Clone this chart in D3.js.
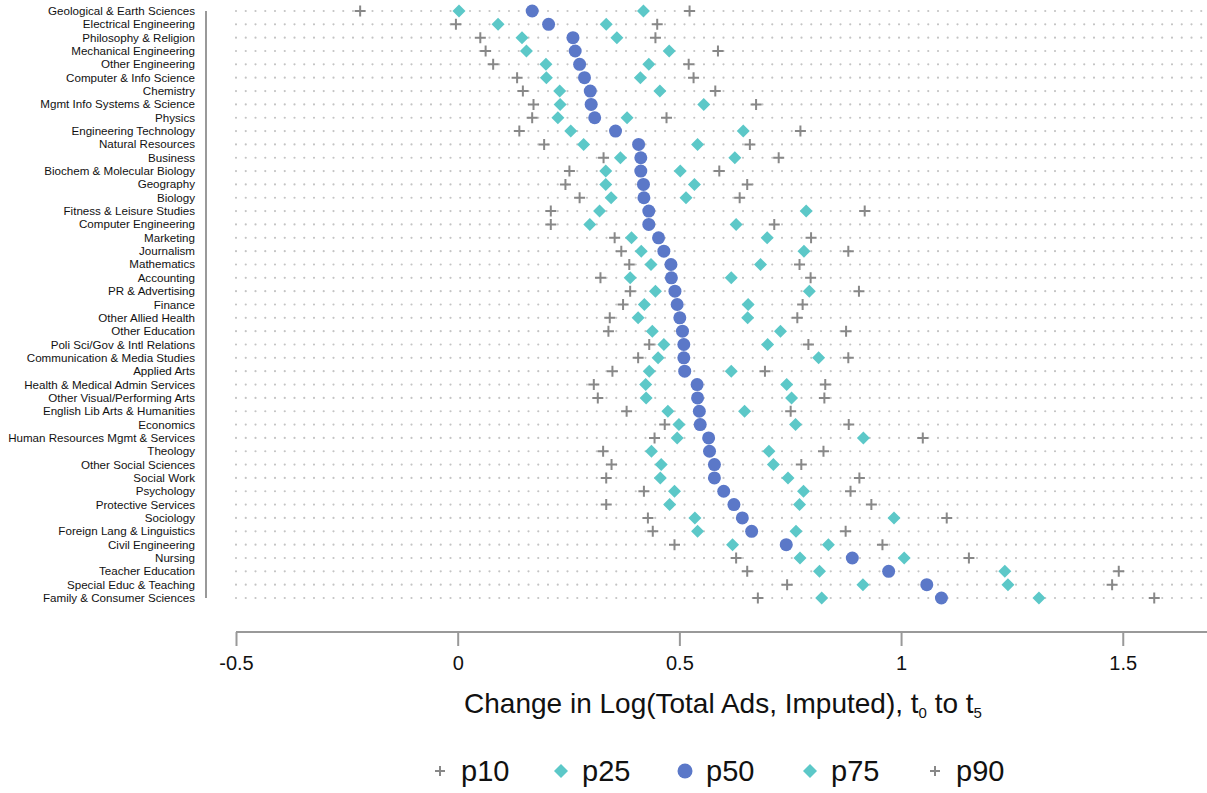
<!DOCTYPE html>
<html>
<head>
<meta charset="utf-8">
<script src="https://cdn.jsdelivr.net/npm/d3@7"></script>
<style>
  body { margin: 0; background: #fff; }
  text { font-family: "Liberation Sans", Arial, sans-serif; }
</style>
</head>
<body>
<div id="chart"></div>
<script>
// Majors, top to bottom
const majors = [
  "Geological & Earth Sciences", "Electrical Engineering", "Philosophy & Religion",
  "Mechanical Engineering", "Other Engineering", "Computer & Info Science",
  "Chemistry", "Mgmt Info Systems & Science", "Physics", "Engineering Technology",
  "Natural Resources", "Business", "Biochem & Molecular Biology", "Geography",
  "Biology", "Fitness & Leisure Studies", "Computer Engineering", "Marketing",
  "Journalism", "Mathematics", "Accounting", "PR & Advertising", "Finance",
  "Other Allied Health", "Other Education", "Poli Sci/Gov & Intl Relations",
  "Communication & Media Studies", "Applied Arts", "Health & Medical Admin Services",
  "Other Visual/Performing Arts", "English Lib Arts & Humanities", "Economics",
  "Human Resources Mgmt & Services", "Theology", "Other Social Sciences",
  "Social Work", "Psychology", "Protective Services", "Sociology",
  "Foreign Lang & Linguistics", "Civil Engineering", "Nursing",
  "Teacher Education", "Special Educ & Teaching", "Family & Consumer Sciences"
];

const p10 = [-0.22, -0.004, 0.051, 0.063, 0.08, 0.134, 0.147, 0.171, 0.168, 0.139,
  0.195, 0.329, 0.252, 0.243, 0.275, 0.21, 0.21, 0.354, 0.369, 0.387,
  0.322, 0.389, 0.373, 0.343, 0.34, 0.432, 0.407, 0.349, 0.307, 0.316,
  0.381, 0.467, 0.444, 0.328, 0.347, 0.335, 0.42, 0.335, 0.429, 0.44,
  0.489, 0.628, 0.653, 0.743, 0.677];
const p25 = [0.003, 0.091, 0.145, 0.155, 0.199, 0.2, 0.23, 0.231, 0.226, 0.255,
  0.284, 0.367, 0.334, 0.334, 0.346, 0.32, 0.298, 0.392, 0.414, 0.436,
  0.389, 0.446, 0.421, 0.407, 0.439, 0.465, 0.452, 0.432, 0.424, 0.425,
  0.474, 0.499, 0.495, 0.437, 0.459, 0.457, 0.489, 0.478, 0.535, 0.541,
  0.62, 0.772, 0.816, 0.914, 0.821];
const p50 = [0.168, 0.205, 0.26, 0.265, 0.275, 0.286, 0.299, 0.301, 0.309, 0.356,
  0.408, 0.413, 0.413, 0.419, 0.42, 0.431, 0.431, 0.453, 0.465, 0.481,
  0.482, 0.49, 0.495, 0.501, 0.507, 0.51, 0.51, 0.512, 0.54, 0.541,
  0.545, 0.547, 0.566, 0.568, 0.579, 0.579, 0.6, 0.623, 0.642, 0.663,
  0.741, 0.89, 0.972, 1.058, 1.091];
const p75 = [0.419, 0.335, 0.359, 0.477, 0.431, 0.412, 0.456, 0.555, 0.382, 0.644,
  0.541, 0.625, 0.502, 0.534, 0.515, 0.786, 0.628, 0.698, 0.781, 0.683,
  0.617, 0.793, 0.655, 0.654, 0.728, 0.699, 0.814, 0.617, 0.742, 0.753,
  0.647, 0.762, 0.915, 0.702, 0.712, 0.745, 0.78, 0.771, 0.984, 0.763,
  0.836, 1.007, 1.234, 1.241, 1.311];
const p90 = [0.523, 0.45, 0.446, 0.587, 0.521, 0.532, 0.581, 0.673, 0.471, 0.773,
  0.659, 0.724, 0.59, 0.653, 0.636, 0.918, 0.714, 0.797, 0.881, 0.771,
  0.796, 0.905, 0.778, 0.766, 0.876, 0.791, 0.881, 0.693, 0.829, 0.827,
  0.751, 0.882, 1.049, 0.825, 0.775, 0.906, 0.886, 0.933, 1.103, 0.875,
  0.958, 1.153, 1.491, 1.476, 1.571];

const xTicks = [-0.5, 0, 0.5, 1, 1.5];
const seriesNames = ["p10", "p25", "p50", "p75", "p90"];

const width = 1207, height = 793;
const colors = { plus: "#888888", diamond: "#5cc8c8", circle: "#5b78c8" };

const svg = d3.select("#chart").append("svg")
  .attr("width", width)
  .attr("height", height);

const x = d3.scaleLinear().domain([-0.5, 1.69]).range([236, 1207]);
const y = d3.scalePoint().domain(majors).range([11, 598]);

// dotted row guides
svg.append("g").selectAll("line")
  .data(majors)
  .join("line")
  .attr("x1", 236).attr("x2", 1207)
  .attr("y1", d => y(d)).attr("y2", d => y(d))
  .attr("stroke", "#c4c4c4")
  .attr("stroke-width", 2.2)
  .attr("stroke-linecap", "round")
  .attr("stroke-dasharray", "0 9.75");

// left axis line + labels
svg.append("line")
  .attr("x1", 206).attr("x2", 206)
  .attr("y1", 11).attr("y2", 598)
  .attr("stroke", "#999").attr("stroke-width", 2);

svg.append("g").selectAll("text")
  .data(majors)
  .join("text")
  .attr("x", 195)
  .attr("y", d => y(d) + 4)
  .attr("text-anchor", "end")
  .attr("font-size", 11.6)
  .attr("fill", "#111")
  .text(d => d);

// x axis
const xAxis = svg.append("g")
  .attr("transform", "translate(0,632)")
  .call(d3.axisBottom(x).tickValues(xTicks).tickSize(14).tickPadding(10)
    .tickFormat(d => d === 0 ? "0" : String(d)));
xAxis.select(".domain").attr("stroke", "#999").attr("stroke-width", 2)
  .attr("d", "M236,0H1207");
xAxis.selectAll(".tick line").attr("stroke", "#999").attr("stroke-width", 2);
xAxis.selectAll(".tick text")
  .attr("font-size", 20)
  .attr("font-family", "Liberation Sans, Arial, sans-serif")
  .attr("fill", "#111");

const title = svg.append("text")
  .attr("x", 723).attr("y", 713)
  .attr("text-anchor", "middle")
  .attr("font-size", 28)
  .attr("fill", "#111");
title.append("tspan").text("Change in Log(Total Ads, Imputed), t");
title.append("tspan").attr("font-size", 15).attr("dy", 5).text("0");
title.append("tspan").attr("dy", -5).text(" to t");
title.append("tspan").attr("font-size", 15).attr("dy", 5).text("5");

// marker drawers
function drawPlus(g, cx, cy, s, w) {
  g.append("path")
    .attr("d", `M${cx - s},${cy}H${cx + s}M${cx},${cy - s}V${cy + s}`)
    .attr("stroke", colors.plus).attr("stroke-width", w).attr("fill", "none");
}
function drawDiamond(g, cx, cy, s) {
  g.append("path")
    .attr("d", `M${cx},${cy - s}L${cx + s},${cy}L${cx},${cy + s}L${cx - s},${cy}Z`)
    .attr("fill", colors.diamond);
}
function drawCircle(g, cx, cy, r) {
  g.append("circle").attr("cx", cx).attr("cy", cy).attr("r", r)
    .attr("fill", colors.circle);
}

const marks = svg.append("g");
majors.forEach((m, i) => {
  const cy = y(m);
  drawPlus(marks, x(p10[i]), cy, 5.5, 2);
  drawPlus(marks, x(p90[i]), cy, 5.5, 2);
  drawDiamond(marks, x(p25[i]), cy, 6.5);
  drawDiamond(marks, x(p75[i]), cy, 6.5);
  drawCircle(marks, x(p50[i]), cy, 6.5);
});

// legend
const legendX = [440, 561, 685, 810, 935];
const legendY = 771;
const lg = svg.append("g");
seriesNames.forEach((name, i) => {
  const lx = legendX[i];
  if (name === "p10" || name === "p90") drawPlus(lg, lx, legendY, 5, 2);
  else if (name === "p50") drawCircle(lg, lx, legendY, 7.5);
  else drawDiamond(lg, lx, legendY, 7);
  lg.append("text")
    .attr("x", lx + 21).attr("y", legendY + 10)
    .attr("font-size", 29)
    .attr("fill", "#111")
    .text(name);
});
</script>
</body>
</html>
